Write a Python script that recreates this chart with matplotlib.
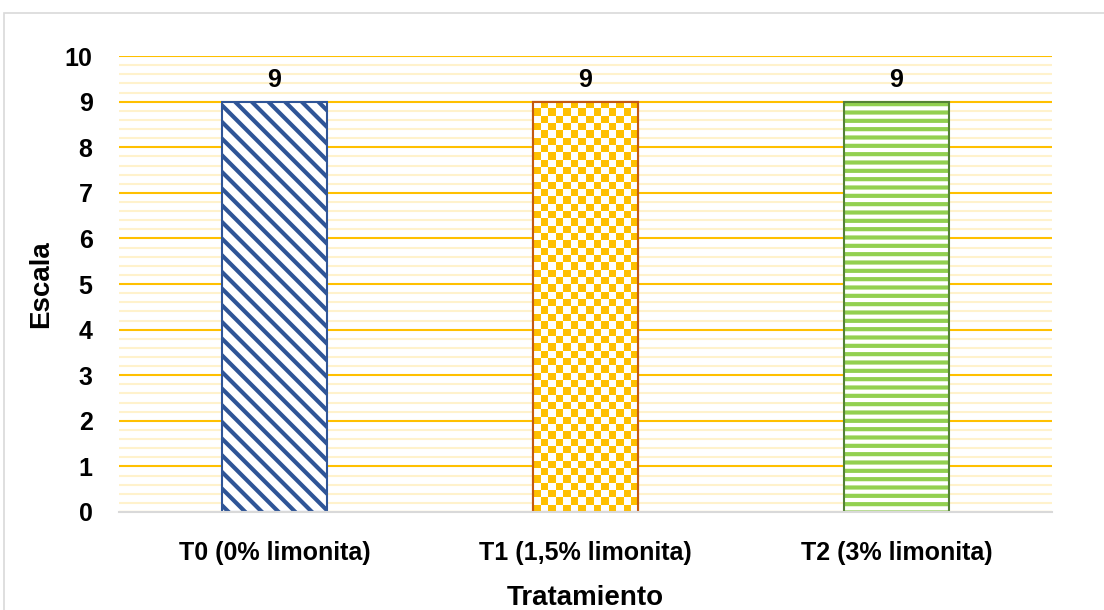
import matplotlib
matplotlib.use("Agg")
import matplotlib.pyplot as plt
from matplotlib.patches import Rectangle
import numpy as np

tratamientos = ["T0 (0% limonita)", "T1 (1,5% limonita)", "T2 (3% limonita)"]
escala = [9, 9, 9]

plt.rcParams['font.family'] = ['Liberation Sans', 'DejaVu Sans']
plt.rcParams['font.weight'] = 'bold'
plt.rcParams['hatch.linewidth'] = 3.0

fig = plt.figure(figsize=(11.04, 6.10), dpi=100)
ax = fig.add_axes([0.1078, 0.1607, 0.845, 0.7473])

# marco exterior del grafico
fig.patches.append(Rectangle((0.0036, -0.05), 1.2, 1.0287, transform=fig.transFigure,
                             fill=False, edgecolor='#D9D9D9', linewidth=1.2))

x = np.arange(len(tratamientos))
ancho = 0.34

# T0: rayas diagonales azules
ax.bar(x[0], escala[0], ancho, color='white', edgecolor='#2F5597',
       hatch='\\\\', linewidth=1.5, zorder=3)

# T1: damero dorado
b1 = ax.bar(x[1], escala[1], ancho, color='white', edgecolor='#C55A11',
            linewidth=1.5, zorder=3)[0]
n_col, n_fil = 14, 56
ii, jj = np.indices((n_fil, n_col))
damero = ((ii + jj) % 2).astype(float)
cmap = matplotlib.colors.ListedColormap(['white', '#FFC000'])
im = ax.imshow(damero, extent=(x[1] - ancho / 2, x[1] + ancho / 2, 0, escala[1]),
               cmap=cmap, aspect='auto', interpolation='nearest', zorder=3.5)
im.set_clip_path(b1)
ax.bar(x[1], escala[1], ancho, fill=False, edgecolor='#C55A11', linewidth=1.5, zorder=4)

# T2: rayas horizontales verdes
ax.bar(x[2], escala[2], ancho, color='white', edgecolor='#92D050',
       hatch='--', linewidth=0, zorder=3)
ax.bar(x[2], escala[2], ancho, fill=False, edgecolor='#548235', linewidth=1.5, zorder=4)

for xi, v in zip(x, escala):
    ax.text(xi, v + 0.22, f"{v}", ha='center', va='bottom', fontsize=18, fontweight='bold')

ax.set_xlim(-0.5, 2.5)
ax.set_ylim(0, 10)
ax.set_yticks(range(0, 11))
ax.set_yticks(np.arange(0, 10.01, 0.2), minor=True)
ax.grid(True, which='major', axis='y', color='#FFC000', linewidth=1.5, zorder=0)
ax.grid(True, which='minor', axis='y', color='#FFF2CC', linewidth=1.5, zorder=0)
ax.set_axisbelow(True)

for s in ['top', 'right', 'left']:
    ax.spines[s].set_visible(False)
ax.spines['bottom'].set_color('#D9D9D9')
ax.spines['bottom'].set_linewidth(1.5)
ax.spines['bottom'].set_zorder(5)

ax.set_xticks(x)
ax.set_xticklabels(tratamientos)
ax.tick_params(axis='both', which='both', length=0, labelsize=18)
ax.tick_params(axis='x', pad=21)
ax.tick_params(axis='y', pad=19)

ax.set_xlabel("Tratamiento", fontsize=20, fontweight='bold', labelpad=14)
ax.set_ylabel("Escala", fontsize=20, fontweight='bold', labelpad=8)

fig.savefig("out.png", dpi=100)
